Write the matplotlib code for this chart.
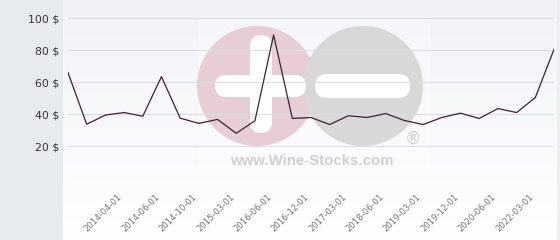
import numpy as np
import matplotlib
matplotlib.use("Agg")
import matplotlib.pyplot as plt
from matplotlib.patches import Circle, FancyBboxPatch, Rectangle

# dates of the price points (only every other one is labelled on the axis)
dates = ["2014-01-01", "2014-02-01", "2014-03-01", "2014-04-01", "2014-05-01",
         "2014-06-01", "2014-08-01", "2014-10-01", "2014-12-01", "2015-03-01",
         "2015-09-01", "2016-06-01", "2016-09-01", "2016-12-01", "2017-01-01",
         "2017-03-01", "2017-12-01", "2018-06-01", "2018-12-01", "2019-03-01",
         "2019-06-01", "2019-12-01", "2020-03-01", "2020-06-01", "2021-06-01",
         "2022-03-01", "2022-09-01"]
prices = [66, 33.7, 39.4, 41, 38.7, 63.5, 37.5, 34.2, 36.7, 28, 35.8, 89.6,
          37.3, 37.9, 33.5, 39, 37.9, 40.4, 36, 33.5, 37.9, 40.6, 37.3, 43.5,
          41, 50.4, 80.6]
yticks = [0, 20, 40, 60, 80, 100]

W, H = 560, 240
fig = plt.figure(figsize=(W / 100, H / 100), dpi=100)
fig.patch.set_facecolor("white")

# background layer in pixel coordinates
bg = fig.add_axes([0, 0, 1, 1], zorder=0)
bg.set_xlim(0, W)
bg.set_ylim(H, 0)
bg.axis("off")
bg.add_patch(Rectangle((0, 0), 63, H, color="#e7ebee", lw=0))
grad = np.linspace(0, 1, 100)[:, None]
bg.imshow(grad, extent=(63, 557, H, 0), cmap=matplotlib.colors.LinearSegmentedColormap.from_list(
    "g", ["#f1f2f6", "#ffffff"]), aspect="auto", zorder=0.5)
bg.add_patch(Rectangle((557, 0), 3, H, color="#eeeeee", lw=0))

# watermark
bg.add_patch(Rectangle((198, 20), 232, 156, color="white", alpha=0.3, lw=0, zorder=1))
bg.add_patch(Circle((257, 86), 60, color="#e8cdd6", lw=0, zorder=2))
bg.add_patch(Circle((363, 86), 60, color="#d8d8d8", lw=0, zorder=2))
bg.add_patch(FancyBboxPatch((215, 75), 91, 22, boxstyle="round,pad=0,rounding_size=11",
                            color="white", lw=0, zorder=3))
bg.add_patch(FancyBboxPatch((250, 35), 22, 98, boxstyle="round,pad=0,rounding_size=11",
                            color="white", lw=0, zorder=3))
bg.add_patch(FancyBboxPatch((315, 74), 95, 24, boxstyle="round,pad=0,rounding_size=12",
                            color="white", lw=0, zorder=3))
bg.text(413, 139, "®", fontsize=12, color="#d0d0d0", ha="center", va="center", zorder=4)
bg.text(312, 161, "www.Wine-Stocks.com", fontsize=10.8, color="#d0d0d0", ha="center",
        va="center", fontweight="bold", family="Liberation Sans", zorder=4)

# main chart
ax = fig.add_axes([68 / W, 62 / H, (554 - 68) / W, 178 / H], zorder=1)
ax.patch.set_alpha(0)
x = np.arange(len(prices))
ax.plot(x, prices, color="#3b2232", lw=0.9, zorder=3)
ax.set_xlim(0, len(prices) - 1)
ax.set_ylim(0, 111.5)
ax.set_yticks(yticks)
ax.set_yticklabels(["" if v == 0 else f"{v} $" for v in yticks])
ax.grid(axis="y", color="#dcdde0", lw=0.8)
ax.set_axisbelow(True)
for s in ax.spines.values():
    s.set_visible(False)
# the first odd label would run into the side panel, so the axis starts at the 2nd one
ax.set_xticks(x[3::2])
ax.set_xticklabels(dates[3::2], rotation=45, ha="right", va="bottom",
                   rotation_mode="anchor", fontsize=6.1, color="#777777")
ax.tick_params(axis="x", length=0, pad=14.5)
ax.tick_params(axis="y", length=0, pad=6.5, labelsize=7.8, labelcolor="#333333")

fig.savefig("out.png", dpi=100)
